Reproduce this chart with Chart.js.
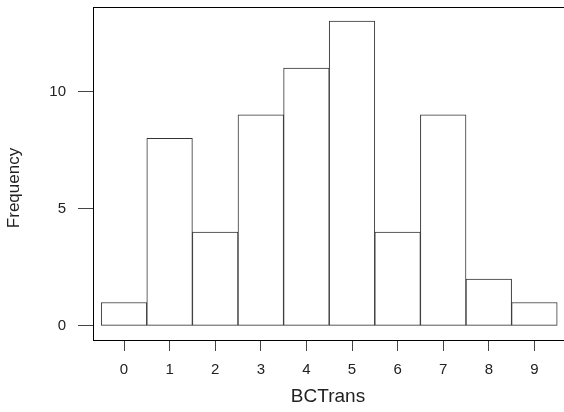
<!DOCTYPE html>
<html>
<head>
<meta charset="utf-8">
<script src="https://cdn.jsdelivr.net/npm/chart.js@4/dist/chart.umd.min.js"></script>
<style>
  html, body { margin: 0; padding: 0; background: #fff; overflow: hidden; }
</style>
</head>
<body>
<canvas id="hist" width="600" height="412"></canvas>
<script>
// histogram bins (centres) and counts
const bins = [0, 1, 2, 3, 4, 5, 6, 7, 8, 9];
const counts = [1, 8, 4, 9, 11, 13, 4, 9, 2, 1];
const yTicks = [0, 5, 10];
const xTicks = bins;
const xTitle = 'BCTrans';
const yTitle = 'Frequency';

const FONT = '"Liberation Sans", Arial, sans-serif';
Chart.defaults.font.family = FONT;
Chart.defaults.color = '#222';

// box round the plot region like R's box(), plus the axis titles
// (R centres them on the figure, not on the clipped plot area)
const frame = {
   id: 'frame',
   afterDraw(chart) {
      const a = chart.chartArea, c = chart.ctx;
      c.save();
      c.strokeStyle = '#000';
      c.lineWidth = 1;
      c.strokeRect(a.left + 0.5, a.top + 0.5, a.right - a.left, a.bottom - a.top);

      c.fillStyle = '#222';
      c.textAlign = 'center';
      c.textBaseline = 'alphabetic';
      c.font = '19px ' + FONT;
      c.fillText(xTitle, 328, 402);

      c.font = '17px ' + FONT;
      c.translate(19, 188);
      c.rotate(-Math.PI / 2);
      c.fillText(yTitle, 0, 0);
      c.restore();
   }
};

const ctx = document.getElementById('hist');
const hist = new Chart(ctx, {
   type: 'bar',
   data: {
      datasets: [{
         data: bins.map((b, i) => ({ x: b, y: counts[i] })),
         backgroundColor: '#fff',
         borderColor: '#333',
         borderWidth: 1,
         borderSkipped: false,
         barPercentage: 1,
         categoryPercentage: 1
      }]
   },
   options: {
      responsive: false,
      animation: false,
      layout: { padding: { top: 7, right: 20, left: 0, bottom: 0 } },
      plugins: { legend: { display: false }, tooltip: { enabled: false } },
      scales: {
         x: {
            type: 'linear',
            min: -0.68,
            max: 10.0,
            offset: false,
            afterFit: s => { s.height = 72; s.paddingLeft = 0; s.paddingRight = 0; },
            afterBuildTicks: s => { s.ticks = xTicks.map(v => ({ value: v })); },
            grid: { offset: false, drawOnChartArea: false, drawTicks: true, tickLength: 11, color: '#444' },
            border: { display: false },
            ticks: { font: { size: 15 }, padding: 10, maxRotation: 0, autoSkip: false }
         },
         y: {
            min: -0.6,
            max: 13.6,
            afterFit: s => { s.width = 93; s.paddingTop = 0; s.paddingBottom = 0; },
            afterBuildTicks: s => { s.ticks = yTicks.map(v => ({ value: v })); },
            grid: { drawOnChartArea: false, drawTicks: true, tickLength: 15, color: '#444' },
            border: { display: false },
            ticks: { font: { size: 15 }, padding: 12 }
         }
      }
   },
   plugins: [frame]
});
</script>
</body>
</html>
